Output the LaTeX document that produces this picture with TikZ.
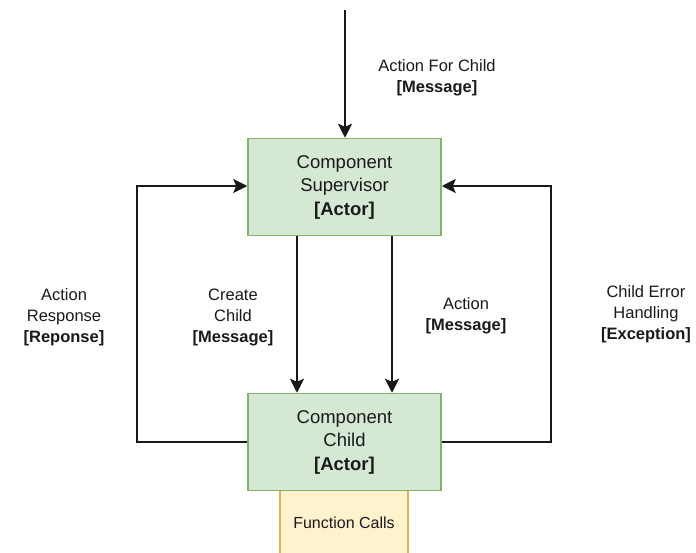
\documentclass[tikz,border=0pt]{standalone}
\usepackage{fontspec}
\setmainfont{Liberation Sans}
\usetikzlibrary{arrows.meta}
\definecolor{actfill}{HTML}{D5E8D4}
\definecolor{actline}{HTML}{82B366}
\definecolor{fnfill}{HTML}{FFF2CC}
\definecolor{fnline}{HTML}{D6B656}
\definecolor{txt}{HTML}{1A1A1A}
\tikzset{
  actor/.style={draw=actline, fill=actfill, line width=1.5pt, minimum width=193pt,
    minimum height=97pt, align=center, font=\fontsize{18.5}{23.5}\selectfont, text=txt},
  fnbox/.style={draw=fnline, fill=fnfill, line width=1.5pt, minimum width=128pt,
    minimum height=66pt, font=\fontsize{16}{20}\selectfont, text=txt},
  lbl/.style={align=center, font=\fontsize{16.5}{21}\selectfont, text=txt},
  flow/.style={draw=black!90, line width=2pt, -{Stealth[length=14pt,width=14pt,inset=3pt]}}
}
\begin{document}
\begin{tikzpicture}[x=1pt,y=-1pt]
\useasboundingbox (0,0) rectangle (696,552);
\fill[white] (0,0) rectangle (696,552);

% actors
\node[actor] (sup) at (344.5,187) {Component\\Supervisor\\\textbf{[Actor]}};
\node[fnbox, anchor=north] (fn) at (344,489) {Function Calls};
\node[actor] (child) at (344.5,442) {Component\\Child\\\textbf{[Actor]}};

% incoming message
\coordinate (src) at (345,10);
\draw[flow] (src) -- (src |- sup.north);
\node[lbl] (lin) at (437,78) {Action For Child\\\textbf{[Message]}};

% supervisor to child
\draw[flow] (sup.south -| 297,0) -- (child.north -| 297,0);
\draw[flow] (sup.south -| 392,0) -- (child.north -| 392,0);
\node[lbl] (lcreate) at (233,317) {Create\\Child\\\textbf{[Message]}};
\node[lbl] (laction) at (466,316) {Action\\\textbf{[Message]}};

% feedback loops
\draw[flow] (child.west) -- (137,442) -- (137,186) -- (sup.west |- 0,186);
\draw[flow] (child.east) -- (551,442) -- (551,186) -- (sup.east |- 0,186);
\node[lbl] (lresp) at (64,317) {Action\\Response\\\textbf{[Reponse]}};
\node[lbl] (lerr) at (646,314) {Child Error\\Handling\\\textbf{[Exception]}};
\end{tikzpicture}
\end{document}
